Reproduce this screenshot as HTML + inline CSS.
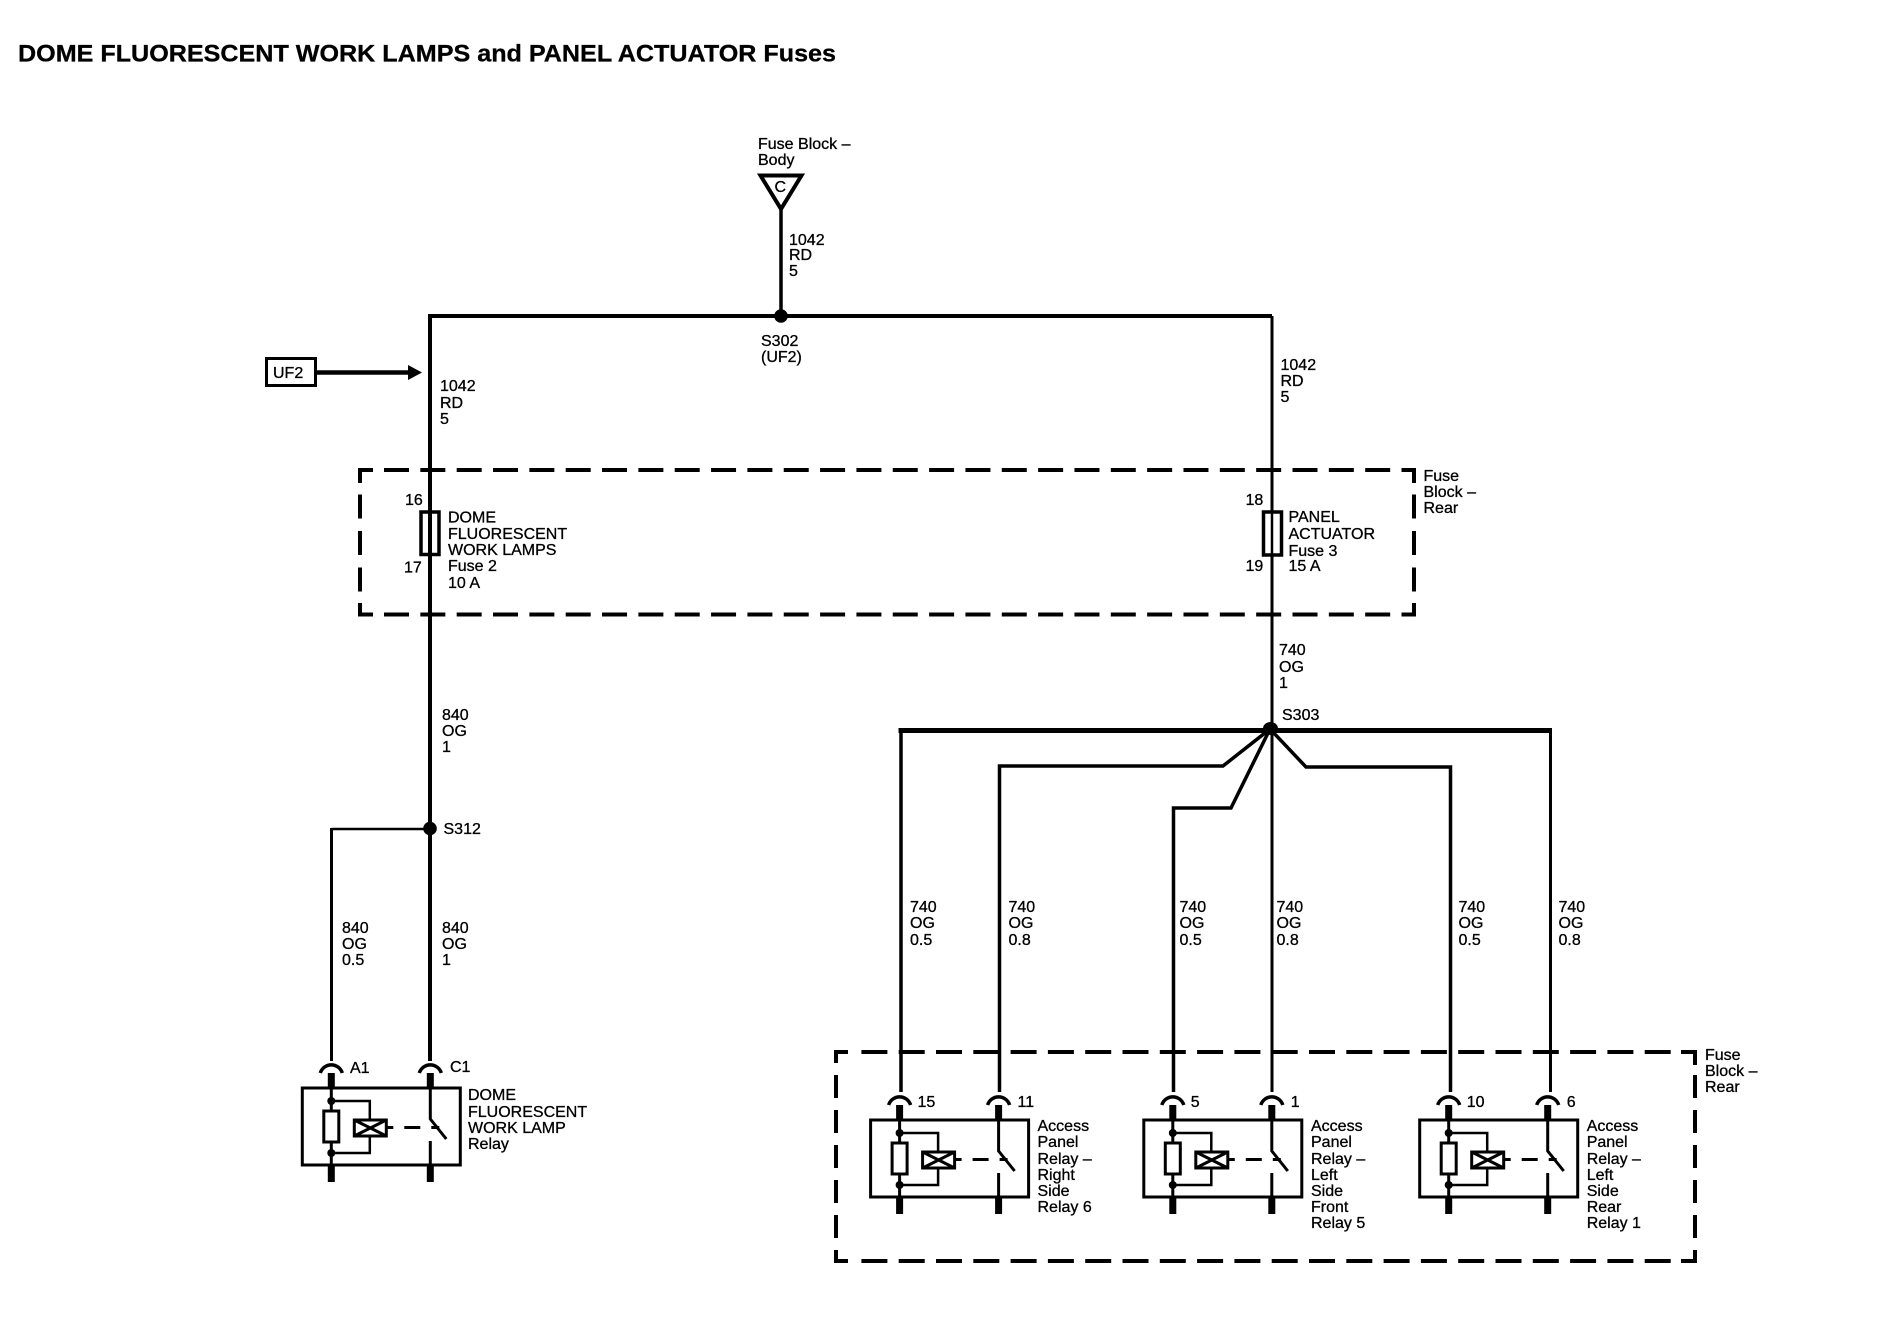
<!DOCTYPE html>
<html lang="en">
<head>
<meta charset="utf-8">
<title>DOME FLUORESCENT WORK LAMPS and PANEL ACTUATOR Fuses</title>
<style>
html,body{margin:0;padding:0;background:#fff;width:1900px;height:1328px;overflow:hidden}
svg{display:block}
text{font-family:"Liberation Sans",sans-serif;font-size:16px;fill:#000;stroke:#000;stroke-width:.3px}
.w{fill:none;stroke:#000;stroke-linejoin:miter}
</style>
</head>
<body>
<svg xmlns="http://www.w3.org/2000/svg" width="1900" height="1328" viewBox="0 0 1900 1328">
<defs>
<g id="relay">
  <path class="w" stroke-width="3.5" d="M-11 13A11.5 11.5 0 0 1 11 13"/>
  <rect x="-3.5" y="13" width="7" height="15"/>
  <rect x="-3.5" y="105" width="7" height="17"/>
  <rect class="w" stroke-width="3" x="-29" y="28" width="158" height="77"/>
  <path class="w" stroke-width="3" d="M0 28V105"/>
  <rect x="-7.5" y="51" width="15" height="31" fill="#fff" stroke="#000" stroke-width="3"/>
  <circle cx="0" cy="41" r="4"/>
  <circle cx="0" cy="93" r="4"/>
  <path class="w" stroke-width="2.5" d="M0 41H38.5V93H0"/>
  <rect x="23" y="60" width="32" height="16" fill="#fff" stroke="#000" stroke-width="3"/>
  <path class="w" stroke-width="3" d="M23 60L55 76M23 76L55 60"/>
  <path class="w" stroke-width="3" d="M55 67.5H62M73 67.5H89M100 67.5H108"/>
  <path class="w" stroke-width="3" d="M99 28V59L115 79M99 81V105"/>
  <rect x="95.5" y="13" width="7" height="15"/>
  <rect x="95.5" y="105" width="7" height="17"/>
  <path class="w" stroke-width="3.5" d="M88 13A11.5 11.5 0 0 1 110 13"/>
</g>
</defs>

<text x="18" y="61.5" font-weight="bold" style="font-size:24.5px" textLength="818" lengthAdjust="spacingAndGlyphs">DOME FLUORESCENT WORK LAMPS and PANEL ACTUATOR Fuses</text>

<!-- Top fuse block feed -->
<text x="758" y="149">Fuse Block –</text>
<text x="758" y="165">Body</text>
<path class="w" stroke-width="4" d="M760.5 175.5H801.5L781 209Z"/>
<text x="774.5" y="192">C</text>
<path class="w" stroke-width="3.5" d="M781 209V316"/>
<text x="789" y="245">1042</text>
<text x="789" y="260">RD</text>
<text x="789" y="276">5</text>

<!-- Main bus -->
<path class="w" stroke-width="4" d="M430 1061V316H1272"/>
<path class="w" stroke-width="3" d="M1272 316V1092"/>
<circle cx="781" cy="316" r="6.8"/>
<text x="761" y="346">S302</text>
<text x="761" y="362">(UF2)</text>

<!-- UF2 arrow -->
<rect x="266.5" y="358.5" width="49" height="27" fill="#fff" stroke="#000" stroke-width="3"/>
<text x="273" y="378">UF2</text>
<path class="w" stroke-width="4.5" d="M316 372.5H410"/>
<path d="M408 365L422 372.5L408 380Z"/>

<text x="440" y="391">1042</text>
<text x="440" y="408">RD</text>
<text x="440" y="424">5</text>
<text x="1280.5" y="370">1042</text>
<text x="1280.5" y="386">RD</text>
<text x="1280.5" y="402">5</text>

<!-- Fuse Block Rear dashed box 1 -->
<g fill="none" stroke="#000" stroke-width="4">
  <path d="M360 483V470H373M360 603V614.5H373M1401.5 470H1414V483M1401.5 614.5H1414V603"/>
  <path stroke-dasharray="25 11.34" d="M384 470H1400M384 614.5H1400"/>
  <path stroke-dasharray="24 12.5" d="M360 494.5V592M1414 494.5V592"/>
</g>

<!-- Fuses -->
<rect x="421" y="512" width="18" height="42.5" fill="#fff" stroke="#000" stroke-width="3.5"/>
<path class="w" stroke-width="4" d="M430 512V555"/>
<text x="405" y="505">16</text>
<text x="404" y="572.5">17</text>
<text x="448" y="522.7">DOME</text>
<text x="448" y="539">FLUORESCENT</text>
<text x="448" y="555">WORK LAMPS</text>
<text x="448" y="571">Fuse 2</text>
<text x="448" y="588">10 A</text>

<rect x="1263.5" y="512" width="18" height="43" fill="#fff" stroke="#000" stroke-width="3.5"/>
<path class="w" stroke-width="2.5" d="M1272 512V555"/>
<text x="1245.5" y="505">18</text>
<text x="1245.5" y="571">19</text>
<text x="1288.5" y="522">PANEL</text>
<text x="1288.5" y="539">ACTUATOR</text>
<text x="1288.5" y="556">Fuse 3</text>
<text x="1288.5" y="571">15 A</text>
<text x="1423.5" y="481">Fuse</text>
<text x="1423.5" y="497">Block –</text>
<text x="1423.5" y="513">Rear</text>

<!-- Left branch -->
<text x="442" y="720">840</text>
<text x="442" y="736">OG</text>
<text x="442" y="752">1</text>
<circle cx="430" cy="828.5" r="6.8"/>
<text x="443.5" y="834">S312</text>
<path class="w" stroke-width="2.5" d="M430 829H331.5"/>
<path class="w" stroke-width="3" d="M331.5 828V1061"/>
<text x="342" y="933">840</text>
<text x="342" y="949">OG</text>
<text x="342" y="965">0.5</text>
<text x="442" y="933">840</text>
<text x="442" y="949">OG</text>
<text x="442" y="965">1</text>

<!-- S303 and fan-out -->
<text x="1279" y="655">740</text>
<text x="1279" y="672">OG</text>
<text x="1279" y="688">1</text>
<text x="1282" y="720">S303</text>
<path class="w" stroke-width="5" d="M898.5 730.5H1552"/>
<path class="w" stroke-width="3.5" d="M901 730V1092"/>
<path class="w" stroke-width="3" d="M1550.5 730V1092"/>
<path class="w" stroke-width="3.5" d="M999.5 1092V766H1223L1270 729"/>
<path class="w" stroke-width="3.5" d="M1173.5 1092V808H1231L1270 729"/>
<path class="w" stroke-width="3.5" d="M1450.5 1092V767H1306L1270 729"/>
<ellipse cx="1270.5" cy="728.5" rx="7.5" ry="6.5"/>

<text x="910" y="912">740</text><text x="910" y="928">OG</text><text x="910" y="945">0.5</text>
<text x="1008.5" y="912">740</text><text x="1008.5" y="928">OG</text><text x="1008.5" y="945">0.8</text>
<text x="1179.5" y="912">740</text><text x="1179.5" y="928">OG</text><text x="1179.5" y="945">0.5</text>
<text x="1276.5" y="912">740</text><text x="1276.5" y="928">OG</text><text x="1276.5" y="945">0.8</text>
<text x="1458.5" y="912">740</text><text x="1458.5" y="928">OG</text><text x="1458.5" y="945">0.5</text>
<text x="1558.5" y="912">740</text><text x="1558.5" y="928">OG</text><text x="1558.5" y="945">0.8</text>

<!-- Relays -->
<use href="#relay" transform="translate(331.3,1060)"/>
<text x="350" y="1073">A1</text>
<text x="450" y="1072">C1</text>
<text x="468" y="1100">DOME</text>
<text x="468" y="1117">FLUORESCENT</text>
<text x="468" y="1133">WORK LAMP</text>
<text x="468" y="1149">Relay</text>

<!-- Fuse Block Rear dashed box 2 -->
<g fill="none" stroke="#000" stroke-width="4">
  <path d="M836 1063V1052H848M836 1250V1261H848M1681 1052H1695V1065M1681 1261H1695V1250"/>
  <path stroke-dasharray="26 11.3" d="M861.4 1052H1672M861.4 1261H1672"/>
  <path stroke-dasharray="23 12" d="M836 1075V1240M1695 1075V1240"/>
</g>
<text x="1705" y="1060">Fuse</text>
<text x="1705" y="1076">Block –</text>
<text x="1705" y="1092">Rear</text>

<use href="#relay" transform="translate(899.6,1092)"/>
<text x="917.5" y="1107">15</text>
<text x="1017.5" y="1107">11</text>
<text x="1037.5" y="1131">Access</text>
<text x="1037.5" y="1147">Panel</text>
<text x="1037.5" y="1164">Relay –</text>
<text x="1037.5" y="1180">Right</text>
<text x="1037.5" y="1196">Side</text>
<text x="1037.5" y="1212">Relay 6</text>

<use href="#relay" transform="translate(1172.8,1092)"/>
<text x="1190.7" y="1107">5</text>
<text x="1290.7" y="1107">1</text>
<text x="1311" y="1131">Access</text>
<text x="1311" y="1147">Panel</text>
<text x="1311" y="1164">Relay –</text>
<text x="1311" y="1180">Left</text>
<text x="1311" y="1196">Side</text>
<text x="1311" y="1212">Front</text>
<text x="1311" y="1228">Relay 5</text>

<use href="#relay" transform="translate(1448.7,1092)"/>
<text x="1466.7" y="1107">10</text>
<text x="1566.7" y="1107">6</text>
<text x="1586.7" y="1131">Access</text>
<text x="1586.7" y="1147">Panel</text>
<text x="1586.7" y="1164">Relay –</text>
<text x="1586.7" y="1180">Left</text>
<text x="1586.7" y="1196">Side</text>
<text x="1586.7" y="1212">Rear</text>
<text x="1586.7" y="1228">Relay 1</text>
</svg>
</body>
</html>
